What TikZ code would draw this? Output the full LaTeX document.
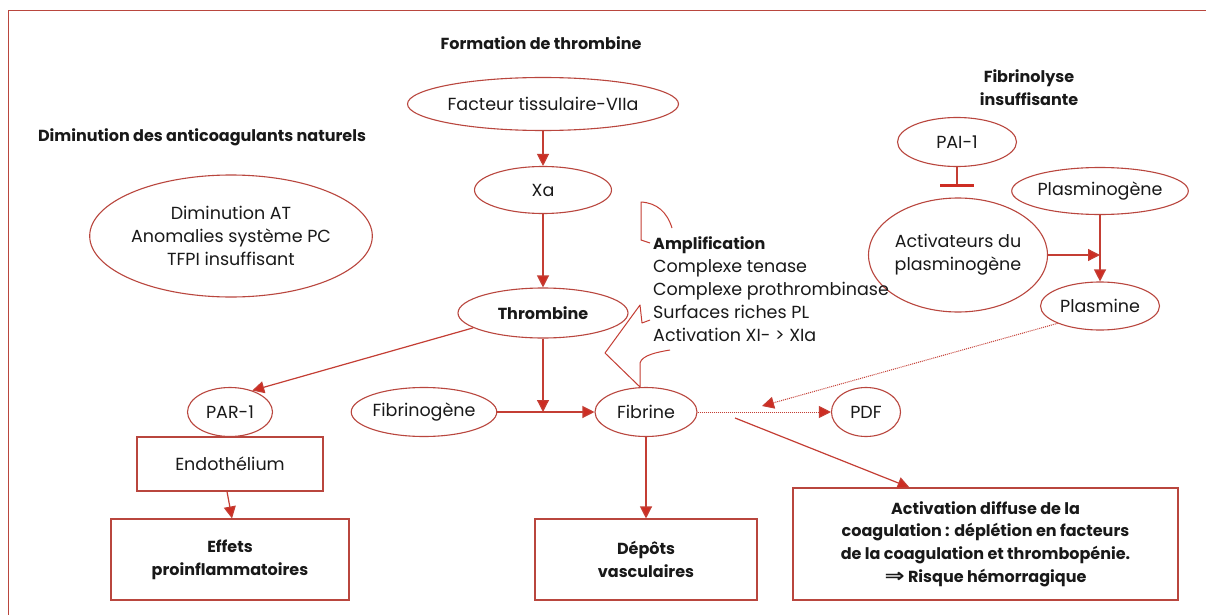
\documentclass[tikz,border=0pt]{standalone}
\usepackage{fontspec}
\setmainfont{Poppins}
\newfontfamily\djv{DejaVu Sans}
\usetikzlibrary{shapes.geometric,arrows.meta}
\definecolor{rl}{RGB}{196,62,52}
\definecolor{ah}{RGB}{205,45,35}
\definecolor{eb}{RGB}{185,70,62}
\definecolor{tx}{RGB}{25,25,25}
\newcommand\freg{\fontsize{17.5}{23}\selectfont}
\newcommand\fbld{\fontsize{16}{22.7}\selectfont\bfseries}
\begin{document}
\begin{tikzpicture}[x=1pt,y=-1pt,
  every node/.style={text=tx},
  ell/.style={draw=eb,line width=1.1pt,ellipse,inner sep=0pt,align=center,font=\freg},
  box/.style={draw=eb,line width=1.1pt,rectangle,inner sep=0pt,align=center},
  arr/.style={draw=rl,line width=1.2pt,-{Triangle[length=12pt,width=12pt,fill=ah]}},
  dotarr/.style={draw=rl,line width=1pt,densely dotted,-{Triangle[length=12pt,width=12pt,fill=ah]}},
  ttl/.style={font=\fbld,align=center,inner sep=0pt},
  callout/.style={draw=rl,line width=1pt,line join=round}
]
\useasboundingbox (0,0) rectangle (1206,615);
\fill[white] (0,0) rectangle (1206,615);
\draw[eb,line width=1pt] (8,615) -- (8,11) -- (1206,11);

% titles
\node[ttl] (tform) at (541,43) {Formation de thrombine};
\node[ttl] (tdim) at (202,137) {Diminution des anticoagulants naturels};
\node[ttl] (tfib) at (1029,88) {Fibrinolyse\\insuffisante};

% ellipses
\node[ell,minimum width=271pt,minimum height=53pt] (ft) at (543,104) {Facteur tissulaire-VIIa};
\node[ell,minimum width=137pt,minimum height=47pt] (xa) at (543,190) {Xa};
\node[ell,minimum width=170pt,minimum height=50pt,font=\fbld] (thr) at (543,313) {Thrombine};
\node[ell,minimum width=272pt,minimum height=122pt] (dim) at (231,236) {Diminution AT\\Anomalies système PC\\TFPI insuffisant};
\node[ell,minimum width=119pt,minimum height=49pt] (pai) at (957,142) {PAI-1};
\node[ell,minimum width=170pt,minimum height=114pt] (act) at (958,255) {Activateurs du\\plasminogène};
\node[ell,minimum width=170pt,minimum height=47pt] (plg) at (1100,191) {Plasminogène};
\node[ell,minimum width=119pt,minimum height=48pt] (pls) at (1100,306) {Plasmine};
\node[ell,minimum width=85pt,minimum height=49pt] (par) at (230,412) {PAR-1};
\node[ell,minimum width=136pt,minimum height=49pt] (fbg) at (424,412) {Fibrinogène};
\node[ell,minimum width=102pt,minimum height=49pt] (fib) at (646,412) {Fibrine};
\node[ell,minimum width=69pt,minimum height=49pt] (pdf) at (866,412) {PDF};

% boxes
\node[box,minimum width=186pt,minimum height=54pt,font=\freg] (endo) at (230,464) {Endothélium};
\node[box,minimum width=238pt,minimum height=81pt,font=\fbld] (eff) at (230,559.5) {Effets\\proinflammatoires};
\node[box,minimum width=222pt,minimum height=81pt,font=\fbld] (dep) at (646,559.5) {Dépôts\\vasculaires};
\node[box,minimum width=385pt,minimum height=112pt,font=\fbld] (dic) at (985.5,544) {Activation diffuse de la\\coagulation : déplétion en facteurs\\de la coagulation et thrombopénie.\\\scalebox{1.5}[1.2]{\djv\bfseries ⇒} Risque hémorragique};

% amplification text
\node[anchor=north west,inner sep=0pt,align=left,font=\freg] (amp) at (653,236) {{\fbld Amplification}\\Complexe tenase\\Complexe prothrombinase\\Surfaces riches PL\\Activation XI- > XIa};

% callout
\draw[callout] (672,228) .. controls (667,212) and (657,203) .. (641,202) -- (641,240) -- (650,243);
\draw[callout] (650,320) -- (642,323) -- (640,305) -- (605,353) -- (640,387) -- (640,363) .. controls (642,355) and (658,352) .. (670,350);

% connectors
\draw[arr] (ft) -- (xa);
\draw[arr] (xa) -- (thr);
\coordinate (j) at (543,412);
\draw[arr] (thr) -- (j);
\draw[arr] (fbg) -- (fib);
\draw[arr] (thr.192) -- (par.44);
\draw[arr] ([xshift=-3pt]endo.south) -- ([xshift=2pt]eff.north);
\draw[arr] (fib) -- (dep);
\coordinate (fs) at (735,418);
\draw[arr] (fs) -- ([xshift=-76pt]dic.north);
\draw[dotarr] (fib) -- (pdf);
\coordinate (pt) at (762,406);
\draw[dotarr] (pls.south west) -- (pt);
\draw[arr] (plg) -- (pls);
\coordinate (k) at (1100,255);
\draw[arr] (act) -- (k);
\coordinate (inh) at (957,185);
\draw[rl,line width=1.2pt] (pai) -- (inh);
\draw[ah,line width=3pt] ([xshift=-17pt]inh) -- ([xshift=17pt]inh);
\end{tikzpicture}
\end{document}
